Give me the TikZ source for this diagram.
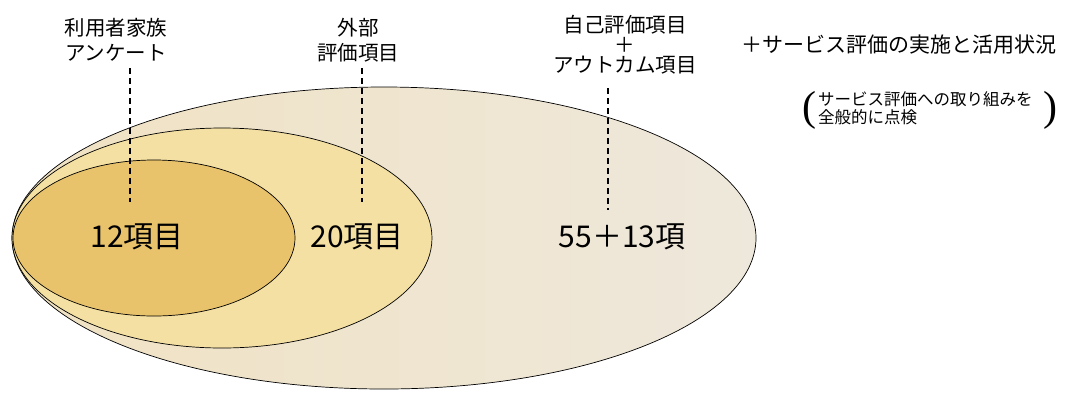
\documentclass[tikz,border=0pt]{standalone}
\usepackage{fontspec}
\newfontfamily\jp{Noto Sans CJK JP}
\newfontfamily\parfont{Liberation Serif}
\definecolor{smallfill}{HTML}{E9C36C}
\definecolor{midfill}{HTML}{F4E0A2}
\definecolor{bigleft}{HTML}{F0E2C2}
\definecolor{bigright}{HTML}{EEE8DC}
\tikzset{
  ring/.style={draw=black, line width=0.7pt},
  toplabel/.style={font=\jp\fontsize{20.5}{25}\selectfont, align=center, inner sep=0pt},
  biglabel/.style={font=\jp\fontsize{30}{32}\selectfont, inner sep=0pt},
  guide/.style={draw=black, line width=1.6pt, dash pattern=on 6pt off 4pt},
  paren/.style={font=\parfont\fontsize{42}{42}\selectfont, inner sep=0pt},
}
\begin{document}
\begin{tikzpicture}[x=1pt,y=1pt]
\useasboundingbox (0,0) rectangle (1071,-392);
% ellipses
\path[ring, left color=bigleft, right color=bigright] (384,-238) ellipse [x radius=372, y radius=151];
\path[ring, fill=midfill] (222,-238) ellipse [x radius=210, y radius=110];
\path[ring, fill=smallfill] (154,-238) ellipse [x radius=141, y radius=78];
% top labels
\node[toplabel] (fam) at (116,-40) {利用者家族\\アンケート};
\node[toplabel] (ext) at (358,-40) {外部\\評価項目};
\node[toplabel, font=\jp\fontsize{20.5}{20}\selectfont] (self) at (625,-45) {自己評価項目\\＋\\アウトカム項目};
\node[font=\jp\fontsize{21}{24}\selectfont, anchor=west, inner sep=0pt] (svc) at (741,-45) {＋サービス評価の実施と活用状況};
\node[font=\jp\fontsize{16.5}{18}\selectfont, align=left, anchor=north west, inner sep=0pt] (chk) at (818,-91) {サービス評価への取り組みを\\全般的に点検};
\node[paren] (lp) at (809,-110) {(};
\node[paren] (rp) at (1050,-110) {)};
% inner labels
\node[biglabel] (n12) at (137,-237) {12項目};
\node[biglabel] (n20) at (357,-237) {20項目};
\node[biglabel] (n55) at (622,-237) {55＋13項};
% dashed guides
\coordinate (famtop) at (130,-68);
\coordinate (fambot) at (130,-202);
\coordinate (exttop) at (362,-68);
\coordinate (extbot) at (362,-202);
\coordinate (selftop) at (608,-88);
\coordinate (selfbot) at (608,-210);
\draw[guide] (famtop) -- (fambot);
\draw[guide] (exttop) -- (extbot);
\draw[guide] (selftop) -- (selfbot);
\end{tikzpicture}
\end{document}
